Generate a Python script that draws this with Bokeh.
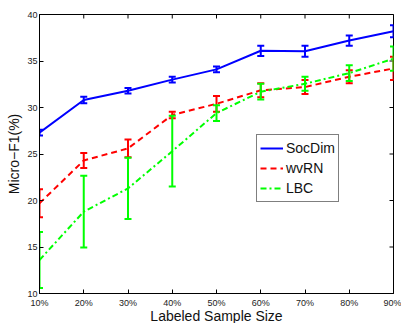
import math
from bokeh.plotting import figure
from bokeh.models import (ColumnDataSource, FixedTicker, Legend, LegendItem, Range1d)
from bokeh.embed import file_html
from bokeh.resources import INLINE

# ---- data ----
sizes = [10, 20, 30, 40, 50, 60, 70, 80, 90]
size_labels = ["10%", "20%", "30%", "40%", "50%", "60%", "70%", "80%", "90%"]
y_ticks = [10, 15, 20, 25, 30, 35, 40]

socdim = [27.3, 30.8, 31.8, 33.0, 34.1, 36.1, 36.05, 37.2, 38.2]
socdim_err = [0.3, 0.35, 0.3, 0.3, 0.3, 0.55, 0.6, 0.55, 0.65]
wvrn = [19.7, 24.3, 25.6, 29.2, 30.4, 31.85, 32.2, 33.3, 34.2]
wvrn_err = [1.5, 0.8, 0.95, 0.35, 0.85, 0.75, 0.75, 0.7, 1.25]
lbc = [13.6, 18.8, 21.3, 25.3, 29.4, 31.7, 32.55, 33.7, 35.25]
lbc_err = [3.0, 3.85, 3.3, 3.8, 0.85, 0.85, 0.75, 0.85, 1.3]

series = [
    ("SocDim", socdim, socdim_err, "#0000ff", "solid"),
    ("wvRN", wvrn, wvrn_err, "#ff0000", "6 4"),
    ("LBC", lbc, lbc_err, "#00ff00", "6 3 2 3"),
]

FONT = "Liberation Sans"
X0, X1 = sizes[0], sizes[-1]
Y0, Y1 = y_ticks[0], y_ticks[-1]

p = figure(frame_width=354, frame_height=279, output_backend="svg", toolbar_location=None,
           x_range=Range1d(X0, X1), y_range=Range1d(Y0, Y1))
p.min_border_left = 39
p.min_border_top = 14
p.min_border_right = 8
p.min_border_bottom = 29
p.background_fill_color = "white"
p.border_fill_color = "white"
p.outline_line_color = "black"
p.outline_line_width = 1
p.xgrid.visible = False
p.ygrid.visible = False

for ax in (p.xaxis[0], p.yaxis[0]):
    ax.major_tick_in = 4
    ax.major_tick_out = 0
    ax.minor_tick_in = 0
    ax.minor_tick_out = 0
    ax.axis_line_color = "black"
    ax.axis_line_width = 1
    ax.major_tick_line_color = "black"
    ax.major_label_text_font = FONT
    ax.major_label_text_font_size = "9px"
    ax.major_label_text_color = "#222222"
    ax.axis_label_text_font = FONT
    ax.axis_label_text_font_size = "14px"
    ax.axis_label_text_font_style = "normal"
    ax.axis_label_text_color = "#111111"

p.xaxis.ticker = FixedTicker(ticks=sizes)
p.xaxis.major_label_overrides = {s: l for s, l in zip(sizes, size_labels)}
p.xaxis.axis_label = "Labeled Sample Size"
p.xaxis.major_label_standoff = 4
p.xaxis.axis_label_standoff = -3
p.yaxis.ticker = FixedTicker(ticks=y_ticks)
p.yaxis.axis_label = "Micro\u2212F1(%)"
p.yaxis.major_label_standoff = 2
p.yaxis.axis_label_standoff = 2

# inward ticks on the top and right edges of the box (clipped to the frame)
p.scatter(x=sizes, y=[Y1] * len(sizes), marker="dash", angle=math.pi / 2, size=8,
          line_color="black", line_width=1)
p.scatter(x=[X1] * len(y_ticks), y=y_ticks, marker="dash", size=8,
          line_color="black", line_width=1)

items = []
for name, vals, err, color, dash in series:
    src = ColumnDataSource(dict(
        x=sizes, y=vals,
        lo=[v - e for v, e in zip(vals, err)],
        hi=[v + e for v, e in zip(vals, err)],
    ))
    r = p.line("x", "y", source=src, line_color=color, line_width=2, line_dash=dash)
    p.segment(x0="x", y0="lo", x1="x", y1="hi", source=src, line_color=color, line_width=2)
    p.scatter(x="x", y="lo", source=src, marker="dash", size=7, line_color=color, line_width=2)
    p.scatter(x="x", y="hi", source=src, marker="dash", size=7, line_color=color, line_width=2)
    items.append(LegendItem(label=name, renderers=[r]))

legend = Legend(items=items, location=(217, 91))
legend.label_text_font = FONT
legend.label_text_font_size = "14px"
legend.label_text_color = "#111111"
legend.glyph_width = 23
legend.glyph_height = 20
legend.label_height = 20
legend.spacing = 0
legend.padding = 3
legend.margin = 0
legend.label_standoff = 3
legend.border_line_color = "black"
legend.border_line_width = 1
legend.background_fill_color = "white"
legend.background_fill_alpha = 1
p.add_layout(legend, "center")

open("out.html", "w").write(file_html(p, INLINE))
